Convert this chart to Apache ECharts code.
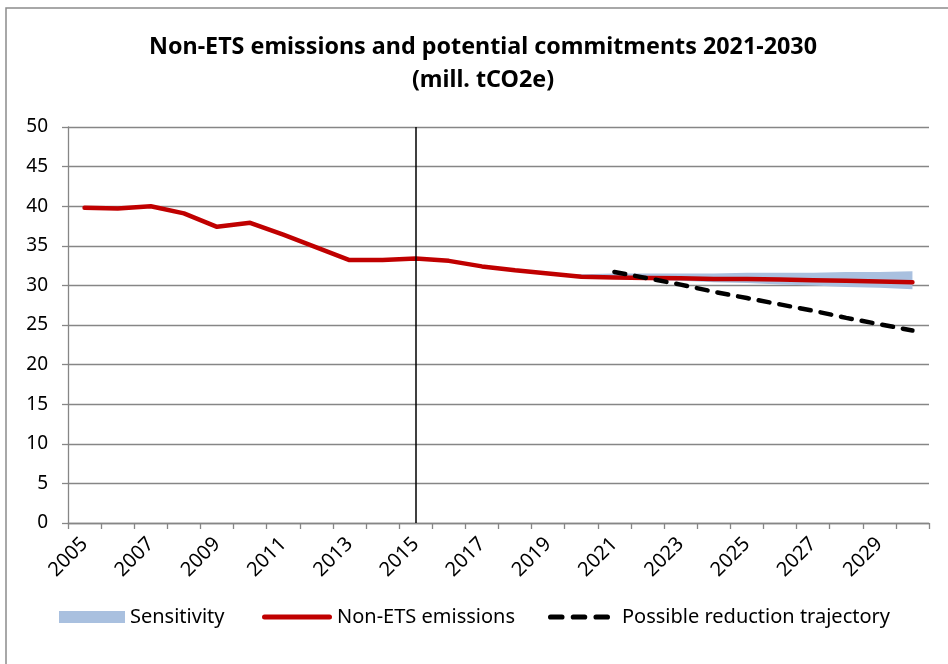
<!DOCTYPE html>
<html>
<head>
<meta charset="utf-8">
<script src="https://cdn.jsdelivr.net/npm/echarts@6/dist/echarts.min.js"></script>
<style>
  html, body { margin: 0; padding: 0; background: #fff; }
  #main { width: 948px; height: 664px; }
</style>
</head>
<body>
<div id="main"></div>
<script>
    // 年份 2005-2030
    var years = ['2005','2006','2007','2008','2009','2010','2011','2012','2013','2014','2015','2016','2017',
                 '2018','2019','2020','2021','2022','2023','2024','2025','2026','2027','2028','2029','2030'];

    // Non-ETS emissions
    var emissions = [39.8, 39.7, 40.0, 39.1, 37.4, 37.9, 36.4, 34.8, 33.2, 33.2, 33.4, 33.1, 32.4,
                     31.9, 31.5, 31.1, 31.0, 30.95, 30.9, 30.8, 30.8, 30.75, 30.65, 30.6, 30.5, 30.4];

    // Possible reduction trajectory (2021-2030)
    var trajectory = [null, null, null, null, null, null, null, null, null, null, null, null, null,
                      null, null, null, 31.7, 30.9, 30.1, 29.2, 28.4, 27.6, 26.8, 25.9, 25.1, 24.3];

    // Sensitivity band (2019-2030)
    var sensLow  = [null, null, null, null, null, null, null, null, null, null, null, null, null,
                    null, 31.5, 31.0, 30.8, 30.7, 30.6, 30.4, 30.3, 30.1, 30.0, 29.8, 29.7, 29.5];
    var sensHigh = [null, null, null, null, null, null, null, null, null, null, null, null, null,
                    null, 31.5, 31.4, 31.5, 31.5, 31.5, 31.5, 31.6, 31.6, 31.6, 31.7, 31.7, 31.8];

    var yTicks = [0, 5, 10, 15, 20, 25, 30, 35, 40, 45, 50];

    var sensWidth = sensHigh.map(function (v, i) {
        return v == null ? null : +(v - sensLow[i]).toFixed(2);
    });

    var font = 'Noto Sans';

    // 图例图标
    var dashIcon = 'path://M2.5,0h11a2.5,2.5 0 0 1 0,5h-11a2.5,2.5 0 0 1 0,-5z' +
                   'M24.5,0h11a2.5,2.5 0 0 1 0,5h-11a2.5,2.5 0 0 1 0,-5z' +
                   'M46.5,0h11a2.5,2.5 0 0 1 0,5h-11a2.5,2.5 0 0 1 0,-5z';
    var lineIcon = 'path://M2.5,0h65a2.5,2.5 0 0 1 0,5h-65a2.5,2.5 0 0 1 0,-5z';

    var myChart = echarts.init(document.getElementById('main'));

    var legendText = { fontFamily: font, fontSize: 20, color: '#000' };

    var option = {
        backgroundColor: '#fff',
        animation: false,
        graphic: [
            {
                type: 'rect',
                shape: { x: 6, y: 8, width: 1200, height: 1000 },
                style: { fill: 'none', stroke: '#8c8c8c', lineWidth: 1.5 },
                silent: true
            },
            {
                type: 'text',
                x: 483, y: 47,
                style: {
                    text: 'Non-ETS emissions and potential commitments 2021-2030',
                    fontFamily: font, fontSize: 23.3, fontWeight: 'bold',
                    fill: '#000', align: 'center', verticalAlign: 'middle'
                }
            },
            {
                type: 'text',
                x: 483, y: 80,
                style: {
                    text: '(mill. tCO2e)',
                    fontFamily: font, fontSize: 23.3, fontWeight: 'bold',
                    fill: '#000', align: 'center', verticalAlign: 'middle'
                }
            }
        ],
        legend: [
            {
                data: [{ name: 'Sensitivity', icon: 'rect' }],
                left: 59, top: 607, padding: 0,
                itemWidth: 66, itemHeight: 12,
                textStyle: legendText
            },
            {
                data: [{ name: 'Non-ETS emissions', icon: lineIcon, itemStyle: { color: '#c00000' } }],
                left: 262, top: 607, padding: 0,
                itemWidth: 70, itemHeight: 12,
                textStyle: legendText
            },
            {
                data: [{ name: 'Possible reduction trajectory', icon: dashIcon, itemStyle: { color: '#000' } }],
                left: 548, top: 607, padding: 0,
                itemWidth: 62, itemHeight: 12,
                textStyle: { fontFamily: font, fontSize: 20, color: '#000', padding: [0, 0, 0, 7] }
            }
        ],
        grid: {
            left: 68,
            right: 19,
            top: 127,
            bottom: 141
        },
        xAxis: {
            type: 'category',
            data: years,
            boundaryGap: true,
            axisLine: { lineStyle: { color: '#868686', width: 1.3 } },
            axisTick: { show: true, interval: 0, length: 6, lineStyle: { color: '#868686', width: 1.3 } },
            axisLabel: {
                interval: 1,
                rotate: 45,
                margin: 18,
                fontFamily: font,
                fontSize: 20,
                color: '#000'
            },
            splitLine: { show: false }
        },
        yAxis: {
            type: 'value',
            min: yTicks[0],
            max: yTicks[yTicks.length - 1],
            interval: 5,
            axisLine: { show: true, lineStyle: { color: '#868686', width: 1.3 } },
            axisTick: { show: true, length: 6, lineStyle: { color: '#868686', width: 1.3 } },
            axisLabel: {
                margin: 20,
                fontFamily: font,
                fontSize: 19,
                color: '#000'
            },
            splitLine: { lineStyle: { color: '#868686', width: 1.3 } }
        },
        series: [
            {
                name: 'sensBase',
                type: 'line',
                stack: 'sens',
                data: sensLow,
                symbol: 'none',
                lineStyle: { opacity: 0 },
                silent: true
            },
            {
                name: 'Sensitivity',
                type: 'line',
                stack: 'sens',
                data: sensWidth,
                symbol: 'none',
                lineStyle: { opacity: 0 },
                itemStyle: { color: '#a9c0df' },
                areaStyle: { color: '#a9c0df', opacity: 1 }
            },
            {
                name: 'Non-ETS emissions',
                type: 'line',
                data: emissions,
                symbol: 'none',
                itemStyle: { color: '#c00000' },
                lineStyle: { color: '#c00000', width: 4.5, cap: 'round', join: 'round' },
                markLine: {
                    silent: true,
                    symbol: 'none',
                    label: { show: false },
                    lineStyle: { color: '#000', width: 1.5, type: 'solid' },
                    data: [{ xAxis: '2015' }]
                }
            },
            {
                name: 'Possible reduction trajectory',
                type: 'line',
                data: trajectory,
                symbol: 'none',
                itemStyle: { color: '#000' },
                lineStyle: { color: '#000', width: 4.5, type: [11, 10], cap: 'round' }
            }
        ]
    };

    myChart.setOption(option);
</script>
</body>
</html>
